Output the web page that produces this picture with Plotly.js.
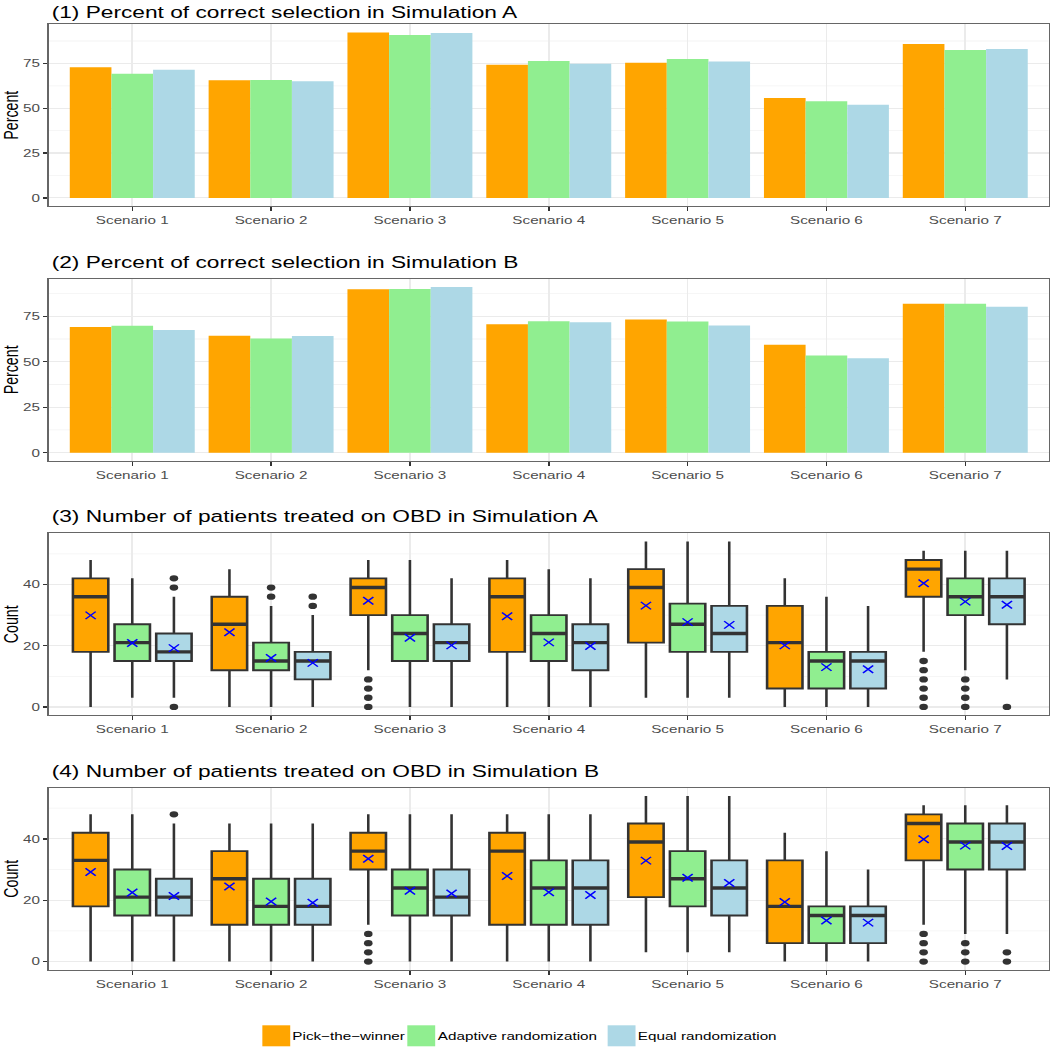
<!DOCTYPE html>
<html><head><meta charset="utf-8">
<script src="https://cdn.plot.ly/plotly-3.0.1.min.js"></script>
<style>
html,body{margin:0;padding:0;overflow:hidden;background:#fff;}
#chart{width:772px;height:1047px;transform:scaleX(1.36);transform-origin:0 0;}
</style></head><body><div id="chart"></div>
<script>
// ---------- data ----------
const categories = ['Scenario 1','Scenario 2','Scenario 3','Scenario 4','Scenario 5','Scenario 6','Scenario 7'];
const methods = ['Pick\u2212the\u2212winner','Adaptive randomization','Equal randomization'];
const groupKeys = ['ptw','ar','er'];
const colors = ['#FFA500','#90EE90','#ADD8E6'];
const panelTitles = ['(1) Percent of correct selection in Simulation A','(2) Percent of correct selection in Simulation B','(3) Number of patients treated on OBD in Simulation A','(4) Number of patients treated on OBD in Simulation B'];
const yTitles = ['Percent','Percent','Count','Count'];

// Percent of correct selection
const pcsA_ptw = [72.9, 65.6, 92.2, 74.2, 75.4, 55.7, 85.8];
const pcsA_ar  = [69.2, 65.8, 90.9, 76.3, 77.4, 53.9, 82.5];
const pcsA_er  = [71.4, 65.1, 92.0, 74.8, 76.1, 52.0, 83.0];
const pcsB_ptw = [69.1, 64.3, 89.8, 70.6, 73.2, 59.3, 81.9];
const pcsB_ar  = [69.8, 62.8, 90.0, 72.2, 72.1, 53.4, 81.9];
const pcsB_er  = [67.4, 64.1, 91.1, 71.7, 70.0, 51.9, 80.2];

// Number of patients on OBD, Simulation A (rows: ptw, ar, er)
const simA_low  = [[0,0,12,0,3,0,18],[3,0,0,0,3,0,12],[3,0,0,0,3,0,9]];
const simA_q1   = [[18,12,30,18,21,6,36],[15,12,15,15,18,6,30],[15,9,15,12,18,6,27]];
const simA_med  = [[36,27,39,36,39,21,45],[21,15,24,24,27,15,36],[18,15,21,21,24,15,36]];
const simA_q3   = [[42,36,42,42,45,33,48],[27,21,30,30,33.75,18,42],[24,18,27,27,33,18,42]];
const simA_high = [[48,45,48,48,54,42,51],[42,33,48,45,54,36,51],[36,30,42,42,54,33,51]];
const simA_mean = [[29.9,24.4,34.7,29.6,33.1,20.1,40.4],[20.9,16.0,22.6,21.1,27.7,13.0,34.4],[19.2,14.4,20.1,19.9,26.8,12.3,33.4]];
const simA_outScenario = [[3,3,3,3,7,7,7,7,7,7],[2,2,7,7,7,7],[1,1,1,2,2,7]];
const simA_outValue    = [[0,3,6,9,0,3,6,9,12,15],[36,39,0,3,6,9],[0,39,42,33,36,0]];

// Number of patients on OBD, Simulation B (rows: ptw, ar, er)
const simB_low  = [[0,0,12,0,3,0,12],[0,0,0,0,3,0,9],[0,0,0,0,3,0,9]];
const simB_q1   = [[18,12,30,12,21,6,33],[15,12,15,12,18,6,30],[15,12,15,12,15,6,30]];
const simB_med  = [[33,27,36,36,39,18,45],[21,18,24,24,27,15,39],[21,18,21,24,24,15,39]];
const simB_q3   = [[42,36,42,42,45,33,48],[30,27,30,33,36,18,45],[27,27,30,33,33,18,45]];
const simB_high = [[48,45,48,48,54,42,51],[48,45,48,48,54,36,51],[45,45,48,48,54,30,51]];
const simB_mean = [[29.2,24.5,33.5,27.9,32.9,19.4,39.9],[22.5,19.6,23.1,22.6,27.3,13.4,37.8],[21.4,19.2,22.2,21.7,25.6,12.7,37.7]];
const simB_outScenario = [[3,3,3,3,7,7,7,7],[7,7,7],[1,7,7]];
const simB_outValue    = [[0,3,6,9,0,3,6,9],[0,3,6],[48,0,3]];

// ---------- style ----------
const FONT = 'Liberation Sans, Arial, Helvetica, sans-serif';
const DARK = '#333333';
const W = 772, H = 1047, ML = 36, MR = 1;
const plotW = W - ML - MR;
const domains = [[0.8031,0.9768],[0.5597,0.7338],[0.3169,0.4906],[0.0737,0.2477]];
const titleY = [1.067, 1.0907, 1.0907, 1.0907];

const traces = [];
function barPanel(series, ax) {
  series.forEach((vals, k) => {
    traces.push({type:'bar', x:categories, y:vals, name:methods[k], offsetgroup:groupKeys[k],
      marker:{color:colors[k], line:{width:0}}, xaxis:'x'+ax, yaxis:'y'+ax, showlegend:false, hoverinfo:'skip'});
  });
}
function boxPanel(low,q1,med,q3,high,mean,outS,outV, ax) {
  for (let k=0;k<3;k++) {
    traces.push({type:'box', x:categories, lowerfence:low[k], q1:q1[k], median:med[k], q3:q3[k], upperfence:high[k],
      name:methods[k], offsetgroup:groupKeys[k], fillcolor:colors[k], line:{color:DARK, width:1.9},
      whiskerwidth:0, boxpoints:false, xaxis:'x'+ax, yaxis:'y'+ax, showlegend:false, hoverinfo:'skip'});
  }
  for (let k=0;k<3;k++) {
    traces.push({type:'scatter', mode:'markers', x:categories, y:med[k], offsetgroup:groupKeys[k],
      marker:{symbol:'line-ew', size:18.6, color:DARK, line:{width:3.4, color:DARK}},
      xaxis:'x'+ax, yaxis:'y'+ax, showlegend:false, hoverinfo:'skip'});
    traces.push({type:'scatter', mode:'markers', x:outS[k].map(i=>categories[i-1]), y:outV[k], offsetgroup:groupKeys[k],
      marker:{symbol:'circle', size:6.3, color:DARK, line:{width:0}},
      xaxis:'x'+ax, yaxis:'y'+ax, showlegend:false, hoverinfo:'skip'});
    traces.push({type:'scatter', mode:'markers', x:categories, y:mean[k], offsetgroup:groupKeys[k],
      marker:{symbol:'x-thin', size:7.5, color:'#0000FF', line:{width:1.3, color:'#0000FF'}},
      xaxis:'x'+ax, yaxis:'y'+ax, showlegend:false, hoverinfo:'skip'});
  }
}
barPanel([pcsA_ptw,pcsA_ar,pcsA_er], '');
barPanel([pcsB_ptw,pcsB_ar,pcsB_er], '2');
boxPanel(simA_low,simA_q1,simA_med,simA_q3,simA_high,simA_mean,simA_outScenario,simA_outValue,'3');
boxPanel(simB_low,simB_q1,simB_med,simB_q3,simB_high,simB_mean,simB_outScenario,simB_outValue,'4');

function xAxis(i) {
  const s = i===0 ? '' : String(i+1);
  return {type:'category', categoryorder:'array', categoryarray:categories, range:[-0.6,6.6],
    domain:[0,1], anchor:'y'+s, showgrid:true, gridcolor:'#EBEBEB', gridwidth:1.3,
    ticks:'outside', ticklen:3.6, tickwidth:1.1, tickcolor:DARK,
    tickfont:{family:FONT, size:11.2, color:'#4D4D4D'},
    showline:true, mirror:true, linecolor:'#666666', linewidth:1.1, zeroline:false, fixedrange:true};
}
function yAxis(i, range, dtick) {
  const s = i===0 ? '' : String(i+1);
  return {domain:domains[i], anchor:'x'+s, range:range, tick0:0, dtick:dtick,
    showgrid:true, gridcolor:'#EBEBEB', gridwidth:1.2,
    minor:{tick0:0, dtick:dtick/2, showgrid:true, gridcolor:'#F3F3F3', gridwidth:0.8},
    ticks:'outside', ticklen:3.2, tickwidth:1.3, tickcolor:DARK,
    tickfont:{family:FONT, size:11.2, color:'#4D4D4D'},
    title:{text:yTitles[i], font:{family:FONT, size:14.2, color:'#000000'}, standoff:4},
    showline:true, mirror:true, linecolor:'#666666', linewidth:1.1, zeroline:false, fixedrange:true};
}

const annotations = panelTitles.map((t,i)=>{
  const s = i===0 ? '' : String(i+1);
  return {text:t, xref:'x'+s+' domain', yref:'y'+s+' domain', x:0, y:titleY[i], xanchor:'left', yanchor:'middle',
    showarrow:false, font:{family:FONT, size:16.7, color:'#000000'}};
});

// manual legend (positions in untransformed px)
const legendSwatchX = [192.9, 299.5, 446.8];
const legendSwatchW = 20.5;
const legendTop = 1025.3, legendBottom = 1046.3, legendMid = 1036;
const toPX = x => (x - ML)/plotW;
const toPY = y => 1 - y/H;
const shapes = [];
methods.forEach((m,k)=>{
  shapes.push({type:'rect', xref:'paper', yref:'paper', x0:toPX(legendSwatchX[k]), x1:toPX(legendSwatchX[k]+legendSwatchW),
    y0:toPY(legendBottom), y1:toPY(legendTop), fillcolor:colors[k], line:{width:0}});
  annotations.push({text:m, xref:'paper', yref:'paper', x:toPX(legendSwatchX[k]+legendSwatchW), y:toPY(legendMid),
    xanchor:'left', yanchor:'middle', showarrow:false, font:{family:FONT, size:11.2, color:'#000000'}});
});

const layout = {
  width:W, height:H, margin:{l:ML, r:MR, t:0, b:0, pad:0},
  paper_bgcolor:'#FFFFFF', plot_bgcolor:'#FFFFFF',
  barmode:'group', bargap:0.1, bargroupgap:0,
  boxmode:'group', boxgap:0.1, boxgroupgap:0.15,
  scattermode:'group', scattergap:0.1,
  showlegend:false, font:{family:FONT},
  xaxis:xAxis(0), xaxis2:xAxis(1), xaxis3:xAxis(2), xaxis4:xAxis(3),
  yaxis:yAxis(0,[-4.61,96.81],25), yaxis2:yAxis(1,[-4.555,95.655],25),
  yaxis3:yAxis(2,[-2.7,56.7],20), yaxis4:yAxis(3,[-2.7,56.7],20),
  annotations:annotations, shapes:shapes
};
Plotly.newPlot('chart', traces, layout, {displayModeBar:false, staticPlot:true});
</script></body></html>
